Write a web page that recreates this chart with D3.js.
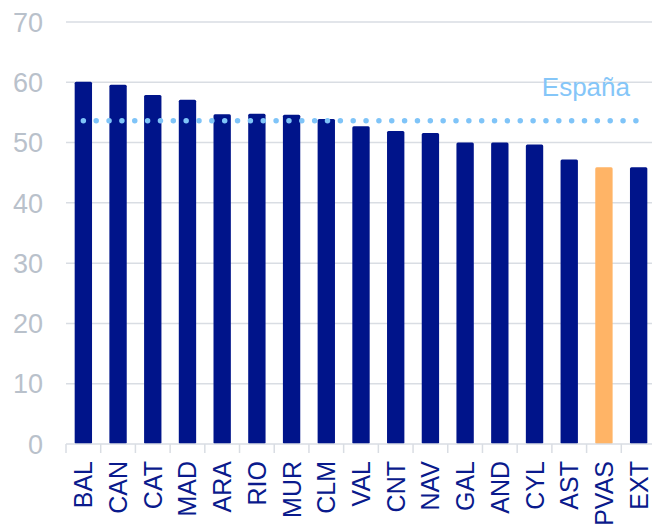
<!DOCTYPE html>
<html>
<head>
<meta charset="utf-8">
<script src="https://cdn.jsdelivr.net/npm/d3@7"></script>
<style>
  html, body { margin: 0; padding: 0; background: #fff; }
  svg { display: block; font-family: "Liberation Sans", Arial, sans-serif; }
</style>
</head>
<body>
<svg id="chart" width="652" height="529"></svg>
<script>
const categories = ["BAL","CAN","CAT","MAD","ARA","RIO","MUR","CLM","VAL","CNT","NAV","GAL","AND","CYL","AST","PVAS","EXT"];
const values = [60.1, 59.6, 57.9, 57.1, 54.7, 54.8, 54.6, 53.9, 52.7, 51.9, 51.6, 50.0, 50.0, 49.7, 47.2, 45.9, 45.9];
const highlight = ["PVAS"];
const spainValue = 53.6;
const spainLabel = "España";
const yTicks = [0, 10, 20, 30, 40, 50, 60, 70];

(function () {
const svg = d3.select("#chart");
const mLeft = 66, mRight = 656, mTop = 22, mBottom = 444;

const x = d3.scaleBand().domain(categories).range([mLeft, mRight]).paddingInner(0.5).paddingOuter(0.25);
const y = d3.scaleLinear().domain([0, 70]).range([mBottom, mTop]);

// gridlines
svg.append("g").selectAll("line").data(yTicks.filter(d => d > 0)).join("line")
  .attr("x1", mLeft).attr("x2", 652)
  .attr("y1", d => y(d)).attr("y2", d => y(d))
  .attr("stroke", "#d9dde3").attr("stroke-width", 1.5);

// y tick labels
svg.append("g").selectAll("text").data(yTicks).join("text")
  .attr("x", 43).attr("y", d => y(d)).attr("dy", "0.36em")
  .attr("text-anchor", "end")
  .attr("fill", "#b9c1cb").attr("font-size", 27)
  .text(d => d);

// bars
svg.append("g").selectAll("rect").data(categories).join("rect")
  .attr("x", d => x(d))
  .attr("width", x.bandwidth())
  .attr("y", (d, i) => y(values[i]))
  .attr("height", (d, i) => y(0) - y(values[i]))
  .attr("rx", 1.5)
  .attr("fill", d => highlight.includes(d) ? "#ffb466" : "#00148a");

// x baseline & ticks
const gx = svg.append("g").attr("transform", `translate(0,${mBottom})`);
gx.append("line").attr("x1", mLeft).attr("x2", 652).attr("y1", 0).attr("y2", 0)
  .attr("stroke", "#d9dde3").attr("stroke-width", 1.5);
const bnds = categories.map((d, i) => mLeft + i * (mRight - mLeft) / categories.length).concat([mRight]);
gx.selectAll("line.tick").data(bnds).join("line").attr("class", "tick")
  .attr("x1", d => d).attr("x2", d => d).attr("y1", 0).attr("y2", 9)
  .attr("stroke", "#d9dde3").attr("stroke-width", 1.5);

// category labels
svg.append("g").selectAll("text").data(categories).join("text")
  .attr("transform", d => `translate(${x(d) + x.bandwidth() / 2},461) rotate(-90)`)
  .attr("dy", "0.36em")
  .attr("text-anchor", "end")
  .attr("fill", "#0a1a8c").attr("font-size", 25)
  .text(d => d);

// Spain dotted line
const cx0 = x(categories[0]) + x.bandwidth() / 2;
const cx1 = x(categories[categories.length - 1]) + x.bandwidth() / 2;
svg.append("line")
  .attr("x1", cx0).attr("x2", cx1)
  .attr("y1", y(spainValue)).attr("y2", y(spainValue))
  .attr("stroke", "#7fc4f8").attr("stroke-width", 5.5)
  .attr("stroke-linecap", "round")
  .attr("stroke-dasharray", "0 12.85");

svg.append("text")
  .attr("x", 630).attr("y", 96)
  .attr("text-anchor", "end")
  .attr("fill", "#85c6f8").attr("font-size", 26)
  .text(spainLabel);
})();
</script>
</body>
</html>
